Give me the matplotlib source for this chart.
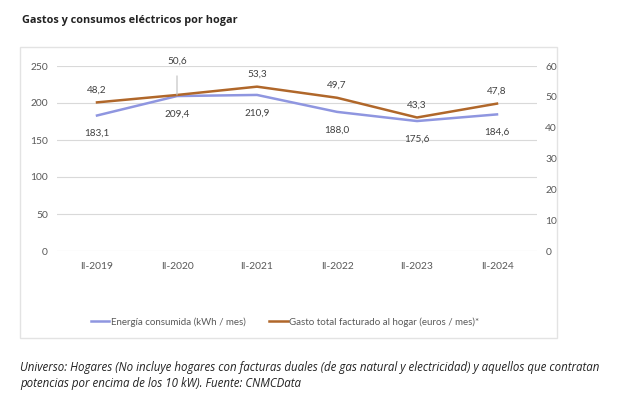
import matplotlib
matplotlib.use("Agg")
import matplotlib.pyplot as plt
from matplotlib.patches import Rectangle

# datos
periodos = ["II-2019", "II-2020", "II-2021", "II-2022", "II-2023", "II-2024"]
energia = [183.1, 209.4, 210.9, 188.0, 175.6, 184.6]
gasto = [48.2, 50.6, 53.3, 49.7, 43.3, 47.8]
energia_txt = ["183,1", "209,4", "210,9", "188,0", "175,6", "184,6"]
gasto_txt = ["48,2", "50,6", "53,3", "49,7", "43,3", "47,8"]

azul = "#8F96E0"
marron = "#B0672A"
gris = "#595959"

fig = plt.figure(figsize=(6.4, 4.05), dpi=100)

# marco del grafico
fig.patches.append(Rectangle((20 / 640, 1 - 338 / 405), 537 / 640, 291 / 405,
                             transform=fig.transFigure, fill=False,
                             edgecolor="#E3E3E3", linewidth=1.0))

fig.text(22 / 640, 1 - 20 / 405, "Gastos y consumos eléctricos por hogar",
         fontsize=7.8, fontweight="bold", family="Open Sans", color="#222222",
         va="center")

ax = fig.add_axes([57 / 640, 1 - 251 / 405, 480 / 640, 185 / 405])
ax2 = ax.twinx()

x = list(range(len(periodos)))
ax.plot(x, energia, color=azul, linewidth=1.8, label="Energía consumida (kWh / mes)")
ax2.plot(x, gasto, color=marron, linewidth=1.8,
         label="Gasto total facturado al hogar (euros / mes)*")

ax.set_xlim(-0.5, len(periodos) - 0.5)
ax.set_ylim(0, 250)
ax2.set_ylim(0, 60)
ax.set_yticks([0, 50, 100, 150, 200, 250])
ax2.set_yticks([0, 10, 20, 30, 40, 50, 60])
ax.set_xticks(x)
ax.set_xticklabels(periodos)

for a in (ax, ax2):
    for s in a.spines.values():
        s.set_visible(False)
    a.tick_params(length=0, labelsize=7.4, labelcolor=gris)
    for lab in a.get_xticklabels() + a.get_yticklabels():
        lab.set_family("Lato")
ax.yaxis.grid(True, color="#D9D9D9", linewidth=0.8)
ax.set_axisbelow(True)
ax.tick_params(axis="y", pad=6.5)
ax.tick_params(axis="x", pad=8)
ax2.tick_params(axis="y", pad=6)

# etiquetas de datos
for i, (v, t) in enumerate(zip(energia, energia_txt)):
    ax.annotate(t, (i, v), xytext=(0, -13), textcoords="offset points",
                ha="center", va="center", fontsize=7.2, color="#404040",
                family="Lato")
for i, (v, t) in enumerate(zip(gasto, gasto_txt)):
    if i == 1:
        ax2.annotate(t, (i, v), xytext=(0, 24), textcoords="offset points",
                     ha="center", va="center", fontsize=7.2, color="#404040",
                     family="Lato",
                     arrowprops=dict(arrowstyle="-", color="#BFBFBF", lw=0.8,
                                     shrinkA=5, shrinkB=0))
    else:
        ax2.annotate(t, (i, v), xytext=(0, 9), textcoords="offset points",
                     ha="center", va="center", fontsize=7.2, color="#404040",
                     family="Lato")

h1, l1 = ax.get_legend_handles_labels()
h2, l2 = ax2.get_legend_handles_labels()
leg = fig.legend(h1 + h2, l1 + l2, loc="center", ncol=2,
                 bbox_to_anchor=(285 / 640, 1 - 322 / 405), frameon=False,
                 prop={"family": "Lato", "size": 7}, handlelength=1.9,
                 handletextpad=0.15, columnspacing=2.4)
for t in leg.get_texts():
    t.set_color(gris)

fig.text(20 / 640, 1 - 367 / 405,
         "Universo: Hogares (No incluye hogares con facturas duales (de gas natural y electricidad) y aquellos que contratan",
         fontsize=8.3, style="italic", family="Open Sans", color="#222222", va="center")
fig.text(20 / 640, 1 - 383 / 405,
         "potencias por encima de los 10 kW). Fuente: CNMCData",
         fontsize=8.3, style="italic", family="Open Sans", color="#222222", va="center")

fig.savefig("out.png", dpi=100)
